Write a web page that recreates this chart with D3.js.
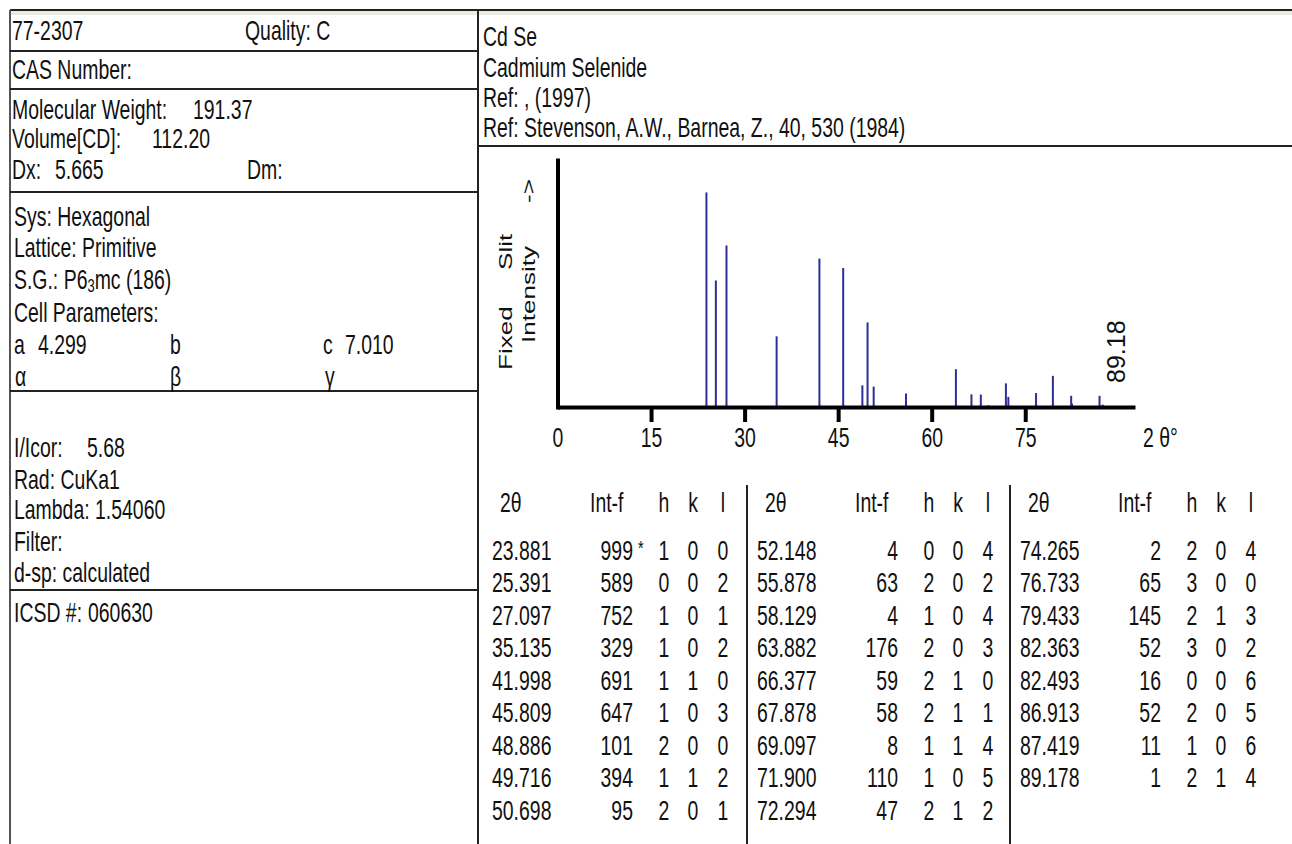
<!DOCTYPE html>
<html>
<head>
<meta charset="utf-8">
<script src="https://cdn.jsdelivr.net/npm/d3@7"></script>
<style>
body { margin: 0; background: #fff; }
svg text { font-family: "Liberation Sans", Arial, sans-serif; fill: #111; }
</style>
</head>
<body>
<svg id="card" width="1292" height="844"></svg>
<script>
// peak list: 2theta, Int-f, h k l
var twoTheta = [23.881, 25.391, 27.097, 35.135, 41.998, 45.809, 48.886, 49.716, 50.698,
  52.148, 55.878, 58.129, 63.882, 66.377, 67.878, 69.097, 71.900, 72.294,
  74.265, 76.733, 79.433, 82.363, 82.493, 86.913, 87.419, 89.178];
var intensity = [999, 589, 752, 329, 691, 647, 101, 394, 95,
  4, 63, 4, 176, 59, 58, 8, 110, 47,
  2, 65, 145, 52, 16, 52, 11, 1];
var hIdx = [1, 0, 1, 1, 1, 1, 2, 1, 2, 0, 2, 1, 2, 2, 2, 1, 1, 2, 2, 3, 2, 3, 0, 2, 1, 2];
var kIdx = [0, 0, 0, 0, 1, 0, 0, 1, 0, 0, 0, 0, 0, 1, 1, 1, 0, 1, 0, 0, 1, 0, 0, 0, 0, 1];
var lIdx = [0, 2, 1, 2, 0, 3, 0, 2, 1, 4, 2, 4, 3, 0, 1, 4, 5, 2, 4, 0, 3, 2, 6, 5, 6, 4];
var xTicks = [0, 15, 30, 45, 60, 75];

var svg = d3.select("#card");

// narrow text like the old bitmap font
function txt(g, x, y, s, anchor) {
  return g.append("text")
    .attr("transform", "translate(" + x + "," + y + ") scale(0.72,1)")
    .attr("text-anchor", anchor || "start")
    .attr("font-size", 27)
    .text(s);
}
function hline(x1, x2, y) {
  svg.append("line").attr("x1", x1).attr("x2", x2).attr("y1", y).attr("y2", y)
    .attr("stroke", "#222").attr("stroke-width", 2);
}
function vline(x, y1, y2, col) {
  svg.append("line").attr("x1", x).attr("x2", x).attr("y1", y1).attr("y2", y2)
    .attr("stroke", col || "#222").attr("stroke-width", 2);
}

// frame
svg.append("rect").attr("x", 10).attr("y", 10).attr("width", 1282).attr("height", 5).attr("fill", "#ecebe3");
hline(10, 1292, 10);
vline(10, 10, 844, "#555");
vline(478, 10, 844);
[51, 89, 192, 391, 590].forEach(function(y) { hline(10, 478, y); });
hline(478, 1292, 146);

// left panel
var left = svg.append("g");
txt(left, 12, 40, "77-2307");
txt(left, 245, 40, "Quality: C");
txt(left, 12, 79, "CAS Number:");
txt(left, 12, 119, "Molecular Weight:");
txt(left, 193, 119, "191.37");
txt(left, 12, 148, "Volume[CD]:");
txt(left, 152, 148, "112.20");
txt(left, 12, 179, "Dx:");
txt(left, 55, 179, "5.665");
txt(left, 247, 179, "Dm:");
txt(left, 14, 226, "Sys: Hexagonal");
txt(left, 14, 257, "Lattice: Primitive");
var sg = txt(left, 14, 289, "S.G.: P6");
sg.append("tspan").attr("font-size", 18).attr("dy", 3).text("3");
sg.append("tspan").attr("dy", -3).text("mc (186)");
txt(left, 14, 322, "Cell Parameters:");
txt(left, 14, 354, "a");
txt(left, 38, 354, "4.299");
txt(left, 170, 354, "b");
txt(left, 323, 354, "c");
txt(left, 345, 354, "7.010");
txt(left, 15, 386, "α");
txt(left, 170, 386, "β");
txt(left, 325, 386, "γ");
txt(left, 14, 457, "I/Icor:");
txt(left, 87, 457, "5.68");
txt(left, 14, 489, "Rad: CuKa1");
txt(left, 14, 519, "Lambda: 1.54060");
txt(left, 14, 551, "Filter:");
txt(left, 14, 582, "d-sp: calculated");
txt(left, 14, 622, "ICSD #:");
txt(left, 88, 622, "060630");

// right header
var head = svg.append("g");
txt(head, 483, 46, "Cd Se");
txt(head, 483, 77, "Cadmium Selenide");
txt(head, 483, 107, "Ref: , (1997)");
txt(head, 483, 137, "Ref: Stevenson, A.W., Barnea, Z., 40, 530 (1984)");

// stick pattern
var xScale = d3.scaleLinear().domain([0, 92.6]).range([557.5, 1135]);
var yScale = d3.scaleLinear().domain([0, 1150]).range([407, 160]);

svg.append("g").selectAll("line").data(twoTheta).enter()
  .append("line")
  .attr("x1", function(d) { return xScale(d); })
  .attr("x2", function(d) { return xScale(d); })
  .attr("y1", yScale(0))
  .attr("y2", function(d, i) { return yScale(intensity[i]); })
  .attr("stroke", "#2e2e96")
  .attr("stroke-width", 2);

var xAxis = d3.axisBottom(xScale).tickValues(xTicks).tickSizeInner(15).tickSizeOuter(0);
var gx = svg.append("g").attr("transform", "translate(0," + yScale(0) + ")").call(xAxis);
gx.select(".domain").attr("stroke", "#000").attr("stroke-width", 4);
gx.selectAll(".tick line").attr("stroke", "#000").attr("stroke-width", 4)
  .filter(function(d) { return d === 0; }).remove();
gx.selectAll(".tick text")
  .attr("font-family", "Liberation Sans, Arial, sans-serif")
  .attr("font-size", 27).attr("fill", "#111")
  .attr("y", 40).attr("dy", 0)
  .attr("transform", "scale(0.72,1)");

var yAxis = d3.axisLeft(yScale).tickValues([]).tickSizeOuter(0);
var gy = svg.append("g").attr("transform", "translate(" + xScale(0) + ",0)").call(yAxis);
gy.select(".domain").attr("stroke", "#000").attr("stroke-width", 4).attr("stroke-linecap", "square");

txt(svg, 1143, 447, "2 θ°");

// rotated axis label
function rot(x, y, s) {
  svg.append("text")
    .attr("transform", "translate(" + x + "," + y + ") scale(1,1.45) rotate(-90)")
    .attr("font-size", 18).text(s);
}
rot(512, 370, "Fixed");
rot(512, 270, "Slit");
rot(535, 343, "Intensity");
rot(535, 203, "->");

// last line position label
var last = twoTheta[twoTheta.length - 1];
svg.append("text")
  .attr("transform", "translate(" + (xScale(last) + 11) + ",383) rotate(-90)")
  .attr("font-size", 25).text(last.toFixed(2));

// hkl tables, 9 lines per block
var blockX = [492, 757, 1020];
var table = svg.append("g");
blockX.forEach(function(bx, b) {
  txt(table, bx + 8, 512, "2θ");
  txt(table, bx + 98, 512, "Int-f");
  txt(table, bx + 172, 512, "h", "middle");
  txt(table, bx + 201, 512, "k", "middle");
  txt(table, bx + 231, 512, "l", "middle");
  if (b > 0) vline(bx - 10, 485, 844);
  for (var r = 0; r < 9; r++) {
    var i = b * 9 + r;
    if (i >= twoTheta.length) break;
    var y = 559.5 + r * 32.5;
    txt(table, bx, y, twoTheta[i].toFixed(3));
    txt(table, bx + 141, y, intensity[i], "end");
    if (intensity[i] === 999) txt(table, bx + 146, y - 5, "*").attr("font-size", 20);
    txt(table, bx + 172, y, hIdx[i], "middle");
    txt(table, bx + 201, y, kIdx[i], "middle");
    txt(table, bx + 231, y, lIdx[i], "middle");
  }
});
</script>
</body>
</html>
